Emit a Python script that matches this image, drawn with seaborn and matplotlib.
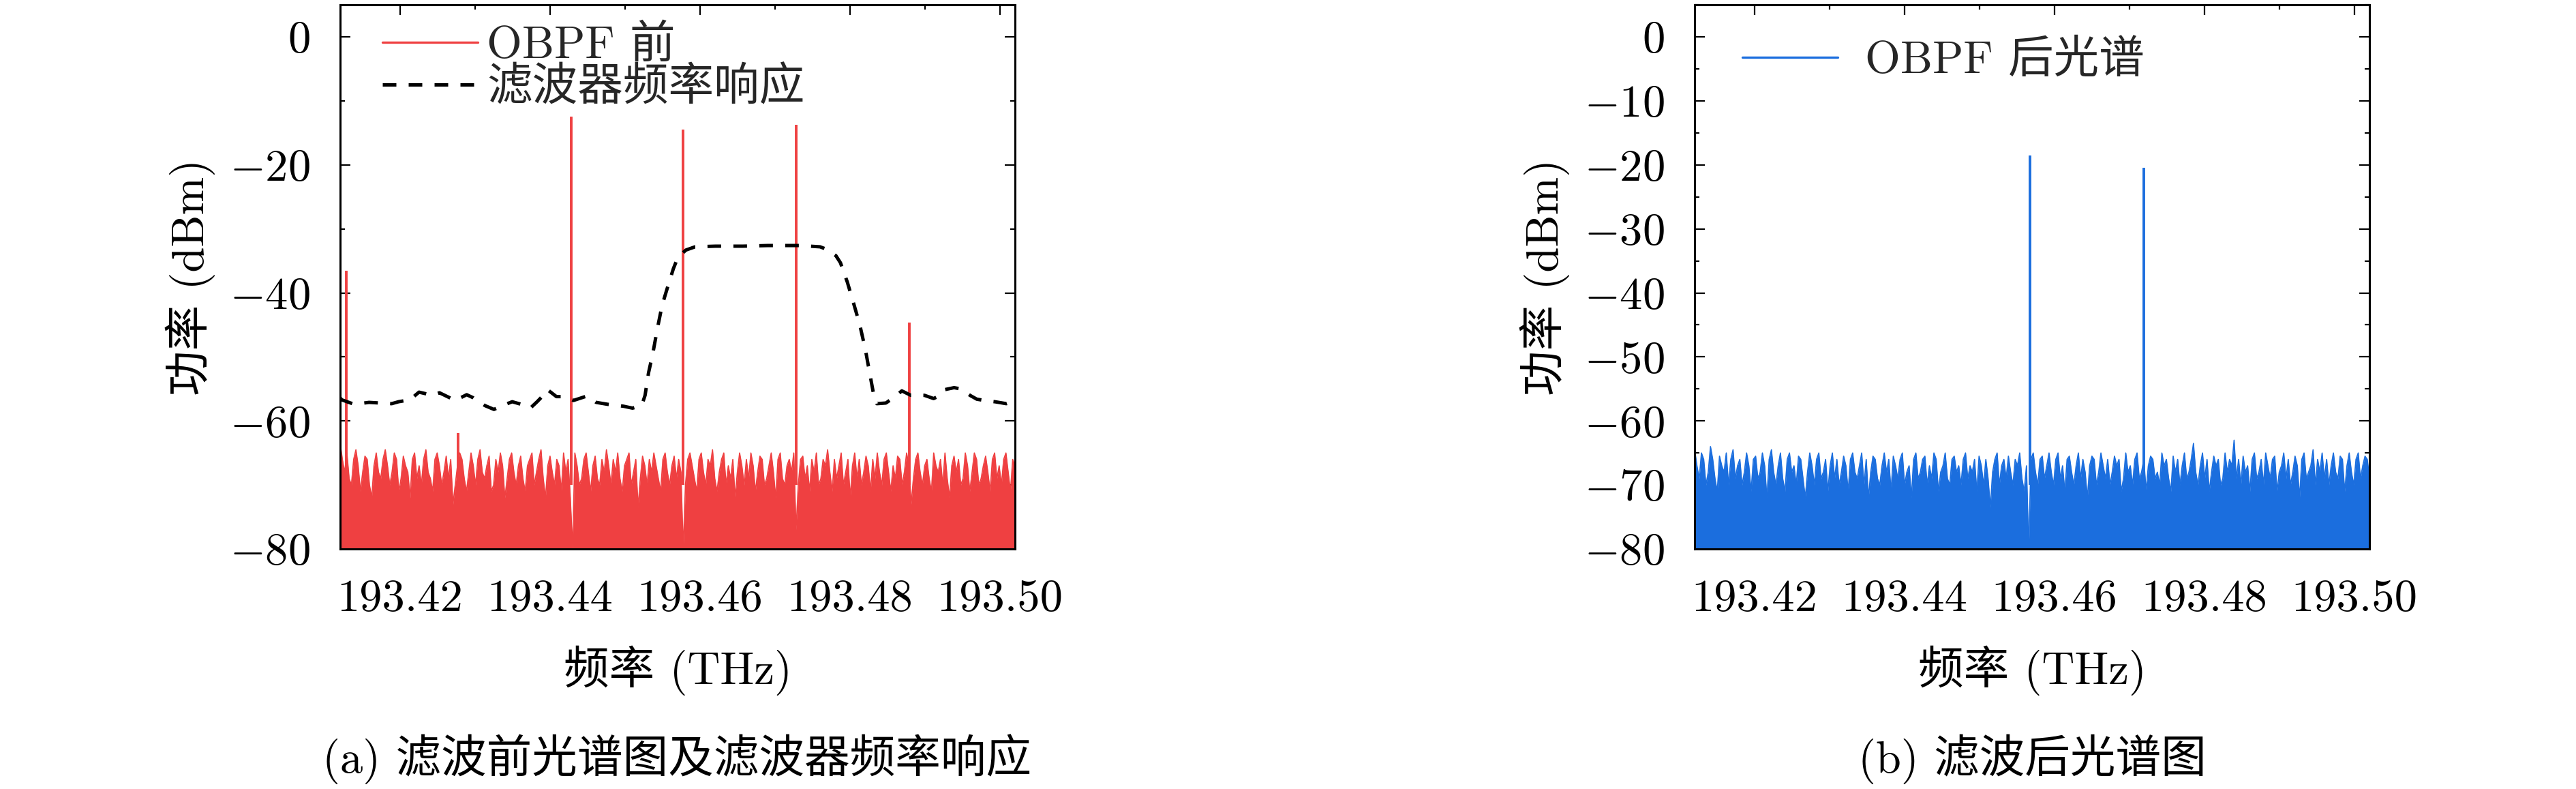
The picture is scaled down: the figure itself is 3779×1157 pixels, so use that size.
import numpy as np
import matplotlib
matplotlib.use('Agg')
import matplotlib.pyplot as plt
import seaborn as sns
from matplotlib.lines import Line2D
from matplotlib.ticker import FuncFormatter, MultipleLocator

sns.set_theme(style='ticks')
plt.rcParams['font.family'] = ['cmr10', 'Noto Sans CJK SC']
plt.rcParams['mathtext.fontset'] = 'cm'
plt.rcParams['axes.unicode_minus'] = True
FS = 48

# ---------------- data ----------------
freq_start, freq_stop = 193.412, 193.502
x_ticks = [193.42, 193.44, 193.46, 193.48, 193.50]
x_tick_labels = ['193.42', '193.44', '193.46', '193.48', '193.50']
y_ticks_a = [0, -20, -40, -60, -80]
y_ticks_b = [0, -10, -20, -30, -40, -50, -60, -70, -80]

# (a) OBPF before: noise floor (dBm), evenly sampled across the span
noise_before = [
    -63.5, -66, -68, -65, -69, -70, -66, -64.5, -67, -71, -68, -65.5, -66, -70, -72, -67, -65, -68, -69, -66,
    -64.5, -67, -70, -68, -65, -66, -71, -69, -65.5, -67, -68, -72, -66, -65, -69, -67, -70, -66, -64.5, -68,
    -69, -71, -66, -65, -67, -70, -68, -65.5, -69, -66, -73, -70, -67, -65, -66, -69, -71, -68, -65, -67,
    -70, -66, -64.5, -68, -69, -67, -65.5, -71, -70, -66, -68, -65, -67, -72, -69, -66, -65, -68, -70, -67,
    -65.5, -69, -71, -67, -66, -65, -70, -68, -66, -64.5, -69, -72, -67, -65.5, -68, -70, -66, -67, -71, -65,
    -68, -66, -72, -80, -65, -67, -70, -69, -66, -65, -68, -71, -67, -65.5, -69, -70, -66, -68, -64.5, -67,
    -70, -66, -68, -65, -69, -71, -67, -66, -65, -70, -68, -66, -73.5, -69, -65.5, -67, -70, -66, -68, -65,
    -67, -69, -71, -66, -65, -68, -70, -67, -65.5, -69, -66, -68, -80, -70, -66, -65, -67, -69, -71, -66,
    -65, -68, -70, -66, -67, -64.5, -69, -71, -68, -66, -65, -70, -67, -69, -66, -72, -68, -65, -67, -70,
    -66, -69, -65, -67, -71, -68, -65.5, -66, -70, -69, -67, -65, -68, -72, -66, -65, -69, -70, -67, -66,
    -68, -65, -77, -70, -66, -65.5, -69, -67, -71, -66, -68, -65, -70, -69, -66, -67, -64.5, -68, -71, -66,
    -69, -67, -65, -70, -68, -66, -72, -67, -65, -69, -66, -70, -68, -65.5, -67, -71, -66, -69, -65, -68,
    -70, -66, -65, -68, -71, -67, -69, -65.5, -66, -70, -68, -65, -67, -73, -69, -66, -65, -68, -70, -67,
    -66, -69, -71, -65, -67, -68, -66, -70, -65, -69, -72, -67, -65.5, -68, -66, -70, -69, -65, -67, -71,
    -68, -65, -66, -70, -69, -67, -65.5, -68, -71, -66, -65, -69, -67, -70, -66, -65, -68, -71, -66, -67,
]
spike_freq_before = [193.4128, 193.4277, 193.4428, 193.4577, 193.4728, 193.4879]
spike_db_before = [-36.5, -61.9, -12.5, -14.5, -13.7, -44.6]
spike_base_before = [-70, -70, -70, -70, -70, -70]

# (a) filter frequency response
filter_freq = [
    193.41200, 193.41222, 193.41388, 193.41585, 193.41888, 193.41979, 193.42131, 193.42252,
    193.42434, 193.42525, 193.42736, 193.42888, 193.42979, 193.43131, 193.43252, 193.43343,
    193.43495, 193.43616, 193.43736, 193.43827, 193.43918, 193.43964, 193.44085, 193.44191,
    193.44312, 193.44494, 193.44615, 193.44767, 193.44979, 193.45100, 193.45222, 193.45267,
    193.45313, 193.45373, 193.45434, 193.45495, 193.45570, 193.45645, 193.45706, 193.45813,
    193.45934, 193.46206, 193.46570, 193.46903, 193.47327, 193.47600, 193.47691, 193.47813,
    193.47873, 193.47964, 193.48055, 193.48131, 193.48206, 193.48267, 193.48313, 193.48358,
    193.48479, 193.48600, 193.48691, 193.48812, 193.48994, 193.49115, 193.49206, 193.49267,
    193.49388, 193.49479, 193.49600, 193.49691, 193.49843, 193.49933, 193.50085, 193.50190,
]
filter_db = [
    -56.4, -56.7, -57.4, -57.1, -57.3, -57.0, -56.7, -55.5,
    -56.0, -55.6, -56.8, -55.9, -56.4, -57.6, -58.2, -57.7,
    -57.0, -57.4, -58.0, -57.0, -55.9, -55.1, -56.2, -56.2,
    -56.8, -56.1, -57.1, -57.4, -57.7, -58.0, -57.6, -56.0,
    -52.5, -49.3, -45.4, -41.9, -39.0, -36.2, -34.4, -33.3,
    -32.8, -32.7, -32.7, -32.6, -32.6, -32.8, -33.2, -34.2,
    -35.3, -38.3, -41.9, -45.0, -48.9, -52.8, -55.7, -57.3,
    -57.2, -56.2, -55.3, -56.0, -56.0, -56.5, -56.0, -55.1,
    -54.8, -55.0, -56.0, -56.6, -56.9, -57.0, -57.3, -56.9,
]

# (b) OBPF after: noise floor (dBm)
noise_after = [
    -64.5, -67, -69, -65, -66, -70, -68, -64, -66, -69, -71, -65.5, -67, -68, -65, -70, -66, -64.5, -69, -67,
    -66, -70, -68, -65, -67, -71, -66, -65.5, -69, -68, -65, -67, -72, -66, -64.5, -68, -70, -67, -65, -69,
    -71, -66, -65, -68, -67, -70, -65.5, -66, -69, -72, -68, -65, -67, -70, -66, -65, -69, -68, -66, -71,
    -67, -65, -69, -66, -70, -68, -65.5, -67, -71, -66, -65, -68, -69, -67, -65, -70, -66, -72, -68, -65.5,
    -66, -69, -70, -67, -65, -68, -66, -71, -65.5, -67, -69, -66, -65, -70, -68, -67, -72, -66, -65, -69,
    -68, -66, -65.5, -70, -67, -69, -65, -66, -71, -68, -67, -65, -69, -70, -66, -65.5, -68, -67, -70, -66,
    -65, -69, -67, -68, -66, -71, -65.5, -67, -70, -66, -69, -73.5, -68, -66, -65, -70, -67, -66, -69, -65.5,
    -68, -70, -66, -67, -65, -69, -71, -67, -80, -66, -65, -68, -70, -66, -65.5, -69, -67, -65, -68, -70,
    -66, -65, -69, -67, -71, -66, -65.5, -68, -70, -67, -65, -69, -66, -68, -72, -67, -65.5, -66, -70, -68,
    -65, -67, -69, -66, -70, -68, -65.5, -67, -66, -71, -69, -65, -68, -67, -70, -66, -65, -69, -68, -66,
    -71, -67, -65.5, -66, -69, -68, -70, -65, -67, -66, -69, -71, -65.5, -68, -66, -70, -67, -65, -69, -68,
    -66, -63.5, -68, -70, -67, -65, -69, -66, -71, -68, -65.5, -67, -66, -70, -69, -65, -68, -66, -67, -63,
    -69, -66, -70, -65.5, -68, -67, -71, -66, -65, -69, -68, -66, -70, -65, -67, -69, -66, -65.5, -71, -68,
    -67, -65, -69, -66, -70, -68, -65.5, -67, -72, -66, -65, -69, -68, -67, -64.5, -70, -66, -68, -65, -69,
    -66, -70, -67, -65, -68, -69, -65.5, -66, -71, -67, -65, -68, -70, -66, -65, -69, -67, -65.5, -66, -69,
]
spike_freq_after = [193.4567, 193.4719]
spike_db_after = [-18.5, -20.5]
spike_base_after = [-70, -70]

RED = '#EF4041'
BLUE = '#1B6EDE'
DASH = (0, (4.0, 3.6))

# ---------------- figure ----------------
fig = plt.figure(figsize=(37.8, 11.57), dpi=100)
axA = fig.add_axes([0.1320, 0.3042, 0.2619, 0.6897])
axB = fig.add_axes([0.6577, 0.3042, 0.2619, 0.6897])


def draw_spectrum(ax, noise, spike_f, spike_db, spike_base, color):
    xs = np.linspace(freq_start, freq_stop, len(noise))
    ax.fill_between(xs, -80, noise, color=color, lw=0, zorder=2)
    sns.lineplot(x=xs, y=noise, ax=ax, color=color, lw=1.2,
                 estimator=None, sort=False, zorder=3)
    ax.vlines(spike_f, spike_base, spike_db, color=color, lw=2.8, zorder=3)


draw_spectrum(axA, noise_before, spike_freq_before, spike_db_before, spike_base_before, RED)
sns.lineplot(x=filter_freq, y=filter_db, ax=axA, color='black', lw=3.6,
             linestyle=DASH, estimator=None, sort=False, zorder=4)
draw_spectrum(axB, noise_after, spike_freq_after, spike_db_after, spike_base_after, BLUE)

for ax, yt, minor in ((axA, y_ticks_a, 10), (axB, y_ticks_b, 5)):
    ax.set_xlim(freq_start, freq_stop)
    ax.set_ylim(-80, 5)
    ax.set_xticks(x_ticks)
    ax.set_xticklabels(x_tick_labels)
    ax.xaxis.set_minor_locator(MultipleLocator(0.01))
    ax.set_yticks(yt)
    ax.yaxis.set_minor_locator(MultipleLocator(minor))
    ax.yaxis.set_major_formatter(FuncFormatter(lambda v, p: f"${v:.0f}$"))
    ax.tick_params(which='both', direction='in', top=True, right=True,
                   width=1.6, color='black', labelsize=FS, pad=32,
                   labelcolor='black')
    ax.tick_params(which='major', length=10.8)
    ax.tick_params(which='minor', length=5)
    for s in ax.spines.values():
        s.set_linewidth(2.2)
        s.set_color('black')
        s.set_zorder(6)
    ax.set_facecolor('white')
    ax.set_xlabel('频率 (THz)', fontsize=FS, color='black')
    ax.xaxis.set_label_coords(0.5, -0.223)
    ax.xaxis.label.set_va('center')
    ax.set_ylabel('功率 (dBm)', fontsize=FS, color='black')
    ax.yaxis.set_label_coords(-0.222, 0.5)
    ax.yaxis.label.set_va('center')

hA = [Line2D([], [], color=RED, lw=2.4),
      Line2D([], [], color='black', lw=3.6, linestyle=DASH)]
axA.legend(hA, ['OBPF 前', '滤波器频率响应'], loc='upper left',
           bbox_to_anchor=(0.0627, 0.963), frameon=False, fontsize=FS,
           handlelength=2.1, handletextpad=0.2, labelspacing=0.0,
           borderpad=0, borderaxespad=0)
hB = [Line2D([], [], color=BLUE, lw=2.4)]
axB.legend(hB, ['OBPF 后光谱'], loc='upper left',
           bbox_to_anchor=(0.0708, 0.935), frameon=False, fontsize=FS,
           handlelength=2.1, handletextpad=0.6, borderpad=0, borderaxespad=0)

fig.text(0.2628, 0.038, '(a) 滤波前光谱图及滤波器频率响应', ha='center', va='center',
         fontsize=FS, color='black')
fig.text(0.7886, 0.038, '(b) 滤波后光谱图', ha='center', va='center',
         fontsize=FS, color='black')

fig.savefig('out.png', dpi=100, facecolor='white')
